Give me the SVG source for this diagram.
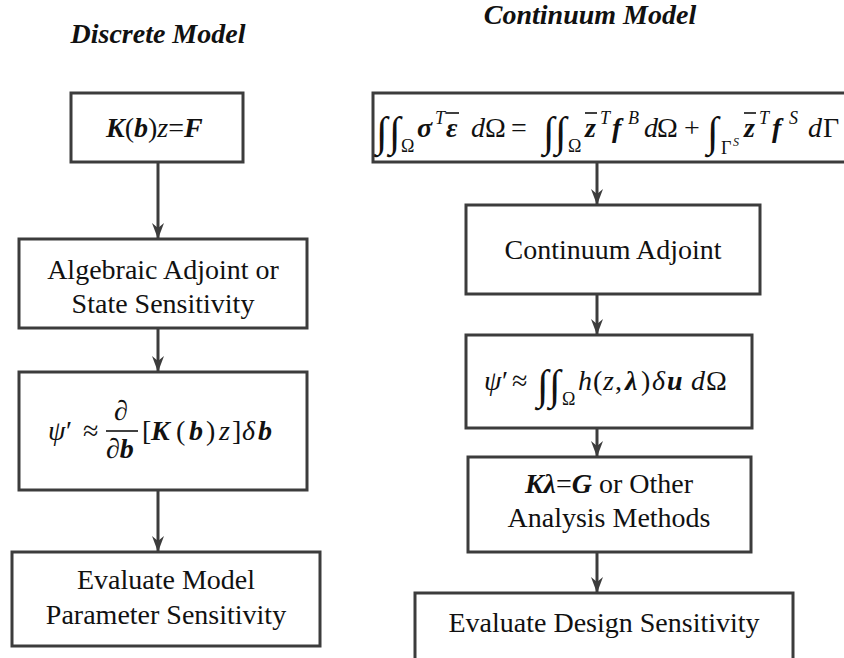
<svg xmlns="http://www.w3.org/2000/svg" width="844" height="658" viewBox="0 0 844 658" font-family="'Liberation Serif', serif">
  <defs>
    <style>
      .box { fill: #ffffff; stroke: #3c3c3c; stroke-width: 3; }
      .link { fill: none; stroke: #3c3c3c; stroke-width: 3; marker-end: url(#ah); }
      .bar { stroke: #111111; stroke-width: 1.6; }
      text { fill: #111111; }
      .lbl { font-size: 28px; }
      .mid { text-anchor: middle; }
      .bi { font-weight: bold; font-style: italic; }
      .it { font-style: italic; }
      .int { font-size: 42px; }
      .sub { font-size: 18px; }
      .sup { font-size: 18px; font-style: italic; }
      .hdr { font-size: 28px; font-weight: bold; font-style: italic; text-anchor: middle; }
    </style>
    <marker id="ah" viewBox="0 0 16 12" refX="16" refY="6" markerWidth="16" markerHeight="12" orient="auto" markerUnits="userSpaceOnUse">
      <path d="M0,0 L16,6 L0,12 L5,6 z" fill="#3c3c3c"/>
    </marker>
  </defs>

  <rect width="844" height="658" fill="#ffffff"/>

  <!-- column headings -->
  <text class="hdr" font-family="'Liberation Serif', serif" x="158" y="43">Discrete Model</text>
  <text class="hdr" font-family="'Liberation Serif', serif" x="590" y="24">Continuum Model</text>

  <!-- connectors -->
  <g id="connectors">
    <line class="link" x1="158" y1="162" x2="158" y2="239"/>
    <line class="link" x1="158" y1="328" x2="158" y2="372"/>
    <line class="link" x1="158" y1="490" x2="158" y2="552"/>
    <line class="link" x1="597" y1="162" x2="597" y2="205"/>
    <line class="link" x1="597" y1="294" x2="597" y2="335"/>
    <line class="link" x1="597" y1="428" x2="597" y2="457"/>
    <line class="link" x1="597" y1="552" x2="597" y2="593"/>
  </g>

  <!-- discrete model column -->
  <g id="equilibrium-discrete" font-family="'Liberation Serif', serif">
    <rect class="box" x="71" y="93" width="172" height="69"/>
    <text class="lbl" font-family="'Liberation Serif', serif" x="106" y="137"><tspan class="bi">K</tspan>(<tspan class="bi">b</tspan>)<tspan class="it">z</tspan>=<tspan class="bi">F</tspan></text>
  </g>

  <g id="algebraic-adjoint" font-family="'Liberation Serif', serif">
    <rect class="box" x="19" y="239" width="288" height="89"/>
    <text class="lbl mid" font-family="'Liberation Serif', serif" x="163" y="279">Algebraic Adjoint or</text>
    <text class="lbl mid" font-family="'Liberation Serif', serif" x="163" y="313">State Sensitivity</text>
  </g>

  <g id="discrete-variation" font-family="'Liberation Serif', serif">
    <rect class="box" x="19" y="372" width="288" height="118"/>
    <text class="lbl it" font-family="'Liberation Serif', serif" x="48" y="440">ψ</text>
    <text class="lbl" font-family="'Liberation Serif', serif" x="66" y="440">′</text>
    <text class="lbl" font-family="'Liberation Serif', serif" x="83" y="440">≈</text>
    <text class="lbl" font-family="'Liberation Serif', serif" x="114" y="420">∂</text>
    <line class="bar" x1="106" y1="431" x2="138" y2="431"/>
    <text class="lbl" font-family="'Liberation Serif', serif" x="106" y="458">∂<tspan class="bi">b</tspan></text>
    <text class="lbl" font-family="'Liberation Serif', serif" x="142" y="440">[</text>
    <text class="lbl bi" font-family="'Liberation Serif', serif" x="151" y="440">K</text>
    <text class="lbl" font-family="'Liberation Serif', serif" x="176" y="440">(</text>
    <text class="lbl bi" font-family="'Liberation Serif', serif" x="189" y="440">b</text>
    <text class="lbl" font-family="'Liberation Serif', serif" x="206" y="440">)</text>
    <text class="lbl it" font-family="'Liberation Serif', serif" x="219" y="440">z</text>
    <text class="lbl" font-family="'Liberation Serif', serif" x="232" y="440">]</text>
    <text class="lbl it" font-family="'Liberation Serif', serif" x="242" y="440">δ</text>
    <text class="lbl bi" font-family="'Liberation Serif', serif" x="258" y="440">b</text>
  </g>

  <g id="model-parameter-sensitivity" font-family="'Liberation Serif', serif">
    <rect class="box" x="12" y="552" width="308" height="94"/>
    <text class="lbl mid" font-family="'Liberation Serif', serif" x="166" y="589">Evaluate Model</text>
    <text class="lbl mid" font-family="'Liberation Serif', serif" x="166" y="624">Parameter Sensitivity</text>
  </g>

  <!-- continuum model column -->
  <g id="equilibrium-continuum" font-family="'Liberation Serif', serif">
    <rect class="box" x="373" y="93" width="480" height="69"/>
    <!-- internal virtual work -->
    <text class="int" font-family="'Liberation Serif', serif" x="376" y="146">∫</text>
    <text class="int" font-family="'Liberation Serif', serif" x="389" y="146">∫</text>
    <text class="sub" font-family="'Liberation Serif', serif" x="401" y="152">Ω</text>
    <text class="lbl bi" font-family="'Liberation Serif', serif" x="417" y="137">σ</text>
    <text class="sup" font-family="'Liberation Serif', serif" x="435" y="124">T</text>
    <text class="lbl bi" font-family="'Liberation Serif', serif" x="446" y="137">ε</text>
    <line class="bar" x1="446" y1="113" x2="459" y2="113"/>
    <text class="lbl it" font-family="'Liberation Serif', serif" x="471" y="137">d</text>
    <text class="lbl" font-family="'Liberation Serif', serif" x="485" y="137">Ω</text>
    <text class="lbl" font-family="'Liberation Serif', serif" x="511" y="137">=</text>
    <!-- body force term -->
    <text class="int" font-family="'Liberation Serif', serif" x="543" y="146">∫</text>
    <text class="int" font-family="'Liberation Serif', serif" x="555" y="146">∫</text>
    <text class="sub" font-family="'Liberation Serif', serif" x="568" y="152">Ω</text>
    <text class="lbl bi" font-family="'Liberation Serif', serif" x="585" y="137">z</text>
    <line class="bar" x1="585" y1="113" x2="597" y2="113"/>
    <text class="sup" font-family="'Liberation Serif', serif" x="600" y="124">T</text>
    <text class="lbl bi" font-family="'Liberation Serif', serif" x="612" y="137">f</text>
    <text class="sup" font-family="'Liberation Serif', serif" x="628" y="124">B</text>
    <text class="lbl it" font-family="'Liberation Serif', serif" x="644" y="137">d</text>
    <text class="lbl" font-family="'Liberation Serif', serif" x="657" y="137">Ω</text>
    <text class="lbl" font-family="'Liberation Serif', serif" x="684" y="137">+</text>
    <!-- traction term -->
    <text class="int" font-family="'Liberation Serif', serif" x="707" y="146">∫</text>
    <text class="sub" font-family="'Liberation Serif', serif" x="721" y="154">Γ</text>
    <text class="sup" font-family="'Liberation Serif', serif" x="733" y="146" style="font-size:12px">S</text>
    <text class="lbl bi" font-family="'Liberation Serif', serif" x="744" y="137">z</text>
    <line class="bar" x1="744" y1="113" x2="756" y2="113"/>
    <text class="sup" font-family="'Liberation Serif', serif" x="759" y="124">T</text>
    <text class="lbl bi" font-family="'Liberation Serif', serif" x="772" y="137">f</text>
    <text class="sup" font-family="'Liberation Serif', serif" x="789" y="124">S</text>
    <text class="lbl it" font-family="'Liberation Serif', serif" x="808" y="137">d</text>
    <text class="lbl" font-family="'Liberation Serif', serif" x="823" y="137">Γ</text>
  </g>

  <g id="continuum-adjoint" font-family="'Liberation Serif', serif">
    <rect class="box" x="466" y="205" width="294" height="89"/>
    <text class="lbl mid" font-family="'Liberation Serif', serif" x="613" y="259">Continuum Adjoint</text>
  </g>

  <g id="continuum-variation" font-family="'Liberation Serif', serif">
    <rect class="box" x="466" y="335" width="286" height="93"/>
    <text class="lbl it" font-family="'Liberation Serif', serif" x="484" y="390">ψ</text>
    <text class="lbl" font-family="'Liberation Serif', serif" x="502" y="390">′</text>
    <text class="lbl" font-family="'Liberation Serif', serif" x="512" y="390">≈</text>
    <text class="int" font-family="'Liberation Serif', serif" x="537" y="399">∫</text>
    <text class="int" font-family="'Liberation Serif', serif" x="549" y="399">∫</text>
    <text class="sub" font-family="'Liberation Serif', serif" x="562" y="405">Ω</text>
    <text class="lbl it" font-family="'Liberation Serif', serif" x="578" y="390">h</text>
    <text class="lbl" font-family="'Liberation Serif', serif" x="593" y="390">(</text>
    <text class="lbl it" font-family="'Liberation Serif', serif" x="603" y="390">z</text>
    <text class="lbl" font-family="'Liberation Serif', serif" x="615" y="390">,</text>
    <text class="lbl bi" font-family="'Liberation Serif', serif" x="625" y="390">λ</text>
    <text class="lbl" font-family="'Liberation Serif', serif" x="641" y="390">)</text>
    <text class="lbl it" font-family="'Liberation Serif', serif" x="652" y="390">δ</text>
    <text class="lbl bi" font-family="'Liberation Serif', serif" x="667" y="390">u</text>
    <text class="lbl it" font-family="'Liberation Serif', serif" x="691" y="390">d</text>
    <text class="lbl" font-family="'Liberation Serif', serif" x="706" y="390">Ω</text>
  </g>

  <g id="adjoint-analysis" font-family="'Liberation Serif', serif">
    <rect class="box" x="468" y="457" width="283" height="95"/>
    <text class="lbl mid" font-family="'Liberation Serif', serif" x="609" y="493"><tspan class="bi">Kλ</tspan>=<tspan class="bi">G</tspan> or Other</text>
    <text class="lbl mid" font-family="'Liberation Serif', serif" x="609" y="527">Analysis Methods</text>
  </g>

  <g id="design-sensitivity" font-family="'Liberation Serif', serif">
    <rect class="box" x="415" y="593" width="378" height="80"/>
    <text class="lbl mid" font-family="'Liberation Serif', serif" x="604" y="632">Evaluate Design Sensitivity</text>
  </g>
</svg>
